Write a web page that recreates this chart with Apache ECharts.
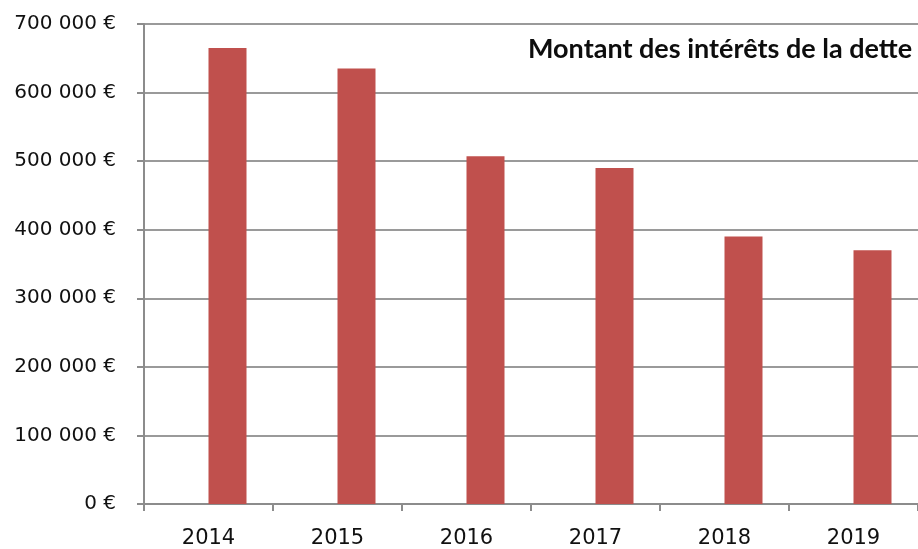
<!DOCTYPE html>
<html>
<head>
<meta charset="utf-8">
<script src="https://cdn.jsdelivr.net/npm/echarts@6/dist/echarts.min.js"></script>
<style>
  html, body { margin: 0; padding: 0; background: #fff; }
  #chart { width: 918px; height: 549px; }
</style>
</head>
<body>
<div id="chart"></div>
<script>
// données
var annees = ["2014", "2015", "2016", "2017", "2018", "2019"];
var interets = [665000, 635000, 507000, 490000, 390000, 370000];
// série vide (Excel : la barre est décalée à droite du centre)
var vide = [null, null, null, null, null, null];
var titre = "Montant des intérêts de la dette";

var myChart = echarts.init(document.getElementById("chart"));

function formatEuro(v) {
  // 700000 -> "700 000 €"
  var s = String(v).replace(/\B(?=(\d{3})+(?!\d))/g, " ");
  return s + " €";
}

var option = {
  animation: false,
  backgroundColor: "#fff",
  title: {
    text: titre,
    left: 523,
    top: 31,
    textStyle: {
      fontFamily: "Lato",
      fontWeight: "bold",
      fontSize: 27,
      color: "#0d0d0d"
    }
  },
  grid: {
    left: 144,
    right: -9,
    top: 24,
    bottom: 44
  },
  xAxis: {
    type: "category",
    data: annees,
    axisLine: { lineStyle: { color: "#8c8c8c", width: 2 } },
    axisTick: { show: true, length: 7, lineStyle: { color: "#8c8c8c", width: 2 } },
    axisLabel: {
      margin: 24,
      fontFamily: "DejaVu Sans",
      fontSize: 21,
      color: "#111"
    }
  },
  yAxis: {
    type: "value",
    min: 0,
    max: 700000,
    interval: 100000,
    axisLine: { show: true, lineStyle: { color: "#8c8c8c", width: 2 } },
    axisTick: { show: true, length: 7, lineStyle: { color: "#8c8c8c", width: 2 } },
    splitLine: { lineStyle: { color: "#9a9a9a", width: 2 } },
    axisLabel: {
      margin: 28,
      fontFamily: "DejaVu Sans",
      fontSize: 20,
      color: "#111",
      formatter: formatEuro
    }
  },
  series: [
    {
      name: "vide",
      type: "bar",
      data: vide,
      barWidth: 38,
      barGap: "0%",
      itemStyle: { color: "transparent" }
    },
    {
      name: "Intérêts",
      type: "bar",
      data: interets,
      barWidth: 38,
      barGap: "0%",
      itemStyle: { color: "#C0504D" }
    }
  ]
};

myChart.setOption(option);
</script>
</body>
</html>
